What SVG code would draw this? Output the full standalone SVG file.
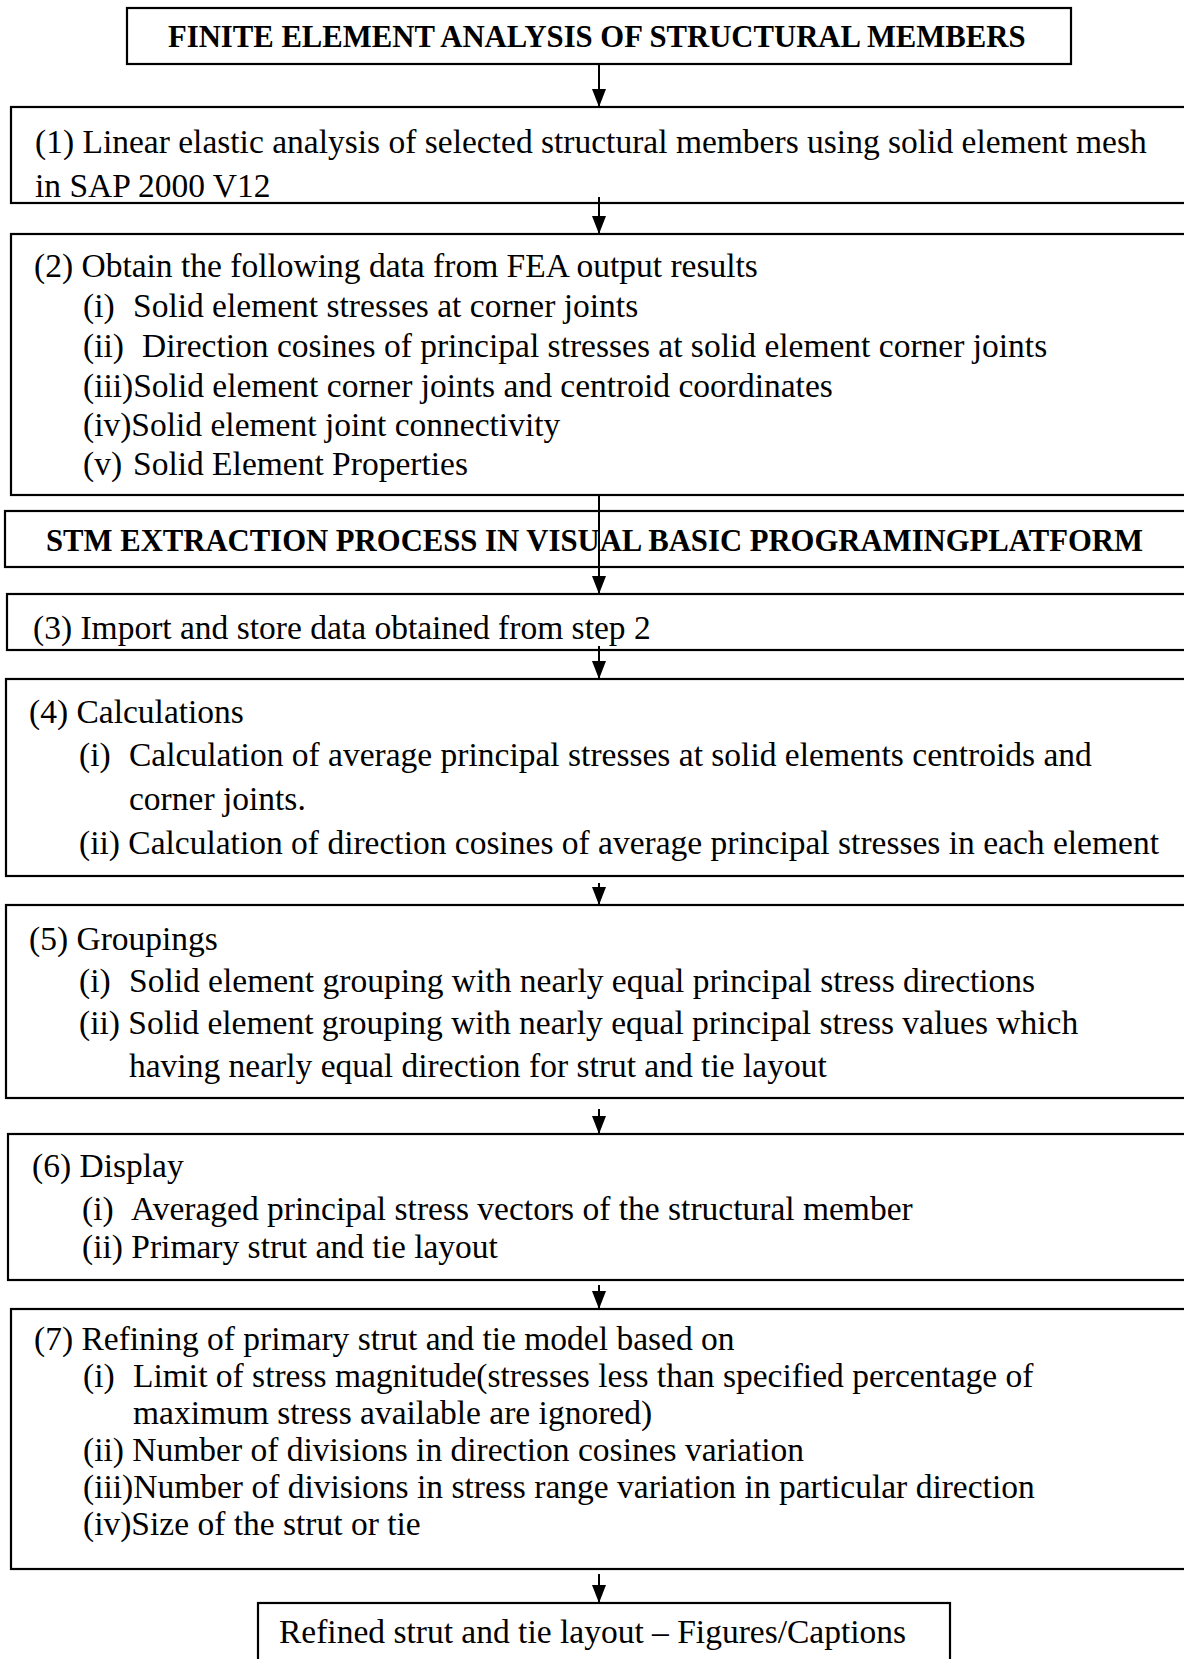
<svg xmlns="http://www.w3.org/2000/svg" width="1184" height="1659" viewBox="0 0 1184 1659">
<style>
  .box { fill: #ffffff; stroke: #000000; stroke-width: 2.2; }
  .t { font-family: "Liberation Serif", "Times New Roman", serif; font-size: 33.5px; fill: #000000; }
  .h { font-family: "Liberation Serif", "Times New Roman", serif; font-size: 30.7px; font-weight: bold; fill: #000000; }
  .conn { stroke: #000000; stroke-width: 2; fill: none; marker-end: url(#ah); }
</style>
<defs>
  <marker id="ah" markerUnits="userSpaceOnUse" markerWidth="18" markerHeight="14" refX="18" refY="7" orient="auto">
    <path d="M0,0 L18,7 L0,14 z" fill="#000000"/>
  </marker>
  <clipPath id="clip1"><rect x="11" y="107" width="1190" height="93"/></clipPath>
  <clipPath id="clip3"><rect x="7" y="594" width="1200" height="53"/></clipPath>
</defs>
<rect width="1184" height="1659" fill="#ffffff"/>

<g id="title-fea">
  <rect class="box" x="127" y="8" width="944" height="56"/>
  <text class="h" x="168" y="47">FINITE ELEMENT ANALYSIS OF STRUCTURAL MEMBERS</text>
</g>

<g id="step1">
  <rect class="box" x="11" y="107" width="1190" height="96"/>
  <g clip-path="url(#clip1)">
    <text class="t" x="35" y="153">(1) Linear elastic analysis of selected structural members using solid element mesh</text>
    <text class="t" x="35" y="197">in SAP 2000 V12</text>
  </g>
</g>

<g id="step2">
  <rect class="box" x="11" y="234" width="1190" height="261"/>
  <text class="t" x="34" y="277">(2) Obtain the following data from FEA output results</text>
  <text class="t" x="83" y="317">(i)</text>
  <text class="t" x="133" y="317">Solid element stresses at corner joints</text>
  <text class="t" x="83" y="357">(ii)</text>
  <text class="t" x="142" y="357">Direction cosines of principal stresses at solid element corner joints</text>
  <text class="t" x="83" y="397">(iii)Solid element corner joints and centroid coordinates</text>
  <text class="t" x="83" y="436">(iv)Solid element joint connectivity</text>
  <text class="t" x="83" y="475">(v)</text>
  <text class="t" x="133" y="475">Solid Element Properties</text>
</g>

<g id="title-stm">
  <rect class="box" x="5" y="511" width="1200" height="56"/>
  <text class="h" x="46" y="551">STM EXTRACTION PROCESS IN VISUAL BASIC PROGRAMINGPLATFORM</text>
</g>

<g id="step3">
  <rect class="box" x="7" y="594" width="1200" height="56"/>
  <g clip-path="url(#clip3)">
    <text class="t" x="33" y="639">(3) Import and store data obtained from step 2</text>
  </g>
</g>

<g id="step4">
  <rect class="box" x="6" y="679" width="1200" height="197"/>
  <text class="t" x="29" y="723">(4) Calculations</text>
  <text class="t" x="79" y="766">(i)</text>
  <text class="t" x="129" y="766">Calculation of average principal stresses at solid elements centroids and</text>
  <text class="t" x="129" y="810">corner joints.</text>
  <text class="t" x="79" y="854">(ii) Calculation of direction cosines of average principal stresses in each element</text>
</g>

<g id="step5">
  <rect class="box" x="6" y="905" width="1200" height="193"/>
  <text class="t" x="29" y="950">(5) Groupings</text>
  <text class="t" x="79" y="992">(i)</text>
  <text class="t" x="129" y="992">Solid element grouping with nearly equal principal stress directions</text>
  <text class="t" x="79" y="1034">(ii) Solid element grouping with nearly equal principal stress values which</text>
  <text class="t" x="129" y="1077">having nearly equal direction for strut and tie layout</text>
</g>

<g id="step6">
  <rect class="box" x="8" y="1134" width="1200" height="146"/>
  <text class="t" x="32" y="1177">(6) Display</text>
  <text class="t" x="82" y="1220">(i)</text>
  <text class="t" x="131" y="1220">Averaged principal stress vectors of the structural member</text>
  <text class="t" x="82" y="1258">(ii) Primary strut and tie layout</text>
</g>

<g id="step7">
  <rect class="box" x="11" y="1309" width="1200" height="260"/>
  <text class="t" x="34" y="1350">(7) Refining of primary strut and tie model based on</text>
  <text class="t" x="83" y="1387">(i)</text>
  <text class="t" x="133" y="1387">Limit of stress magnitude(stresses less than specified percentage of</text>
  <text class="t" x="133" y="1424">maximum stress available are ignored)</text>
  <text class="t" x="83" y="1461">(ii) Number of divisions in direction cosines variation</text>
  <text class="t" x="83" y="1498">(iii)Number of divisions in stress range variation in particular direction</text>
  <text class="t" x="83" y="1535">(iv)Size of the strut or tie</text>
</g>

<g id="result">
  <rect class="box" x="258" y="1603" width="692" height="80"/>
  <text class="t" x="279" y="1643">Refined strut and tie layout – Figures/Captions</text>
</g>

<g id="connectors">
  <line class="conn" x1="599" y1="64" x2="599" y2="107"/>
  <line class="conn" x1="599" y1="197" x2="599" y2="234"/>
  <line class="conn" x1="599" y1="495" x2="599" y2="594"/>
  <line class="conn" x1="599" y1="646" x2="599" y2="679"/>
  <line class="conn" x1="599" y1="883" x2="599" y2="905"/>
  <line class="conn" x1="599" y1="1109" x2="599" y2="1134"/>
  <line class="conn" x1="599" y1="1285" x2="599" y2="1309"/>
  <line class="conn" x1="599" y1="1574" x2="599" y2="1603"/>
</g>
</svg>
